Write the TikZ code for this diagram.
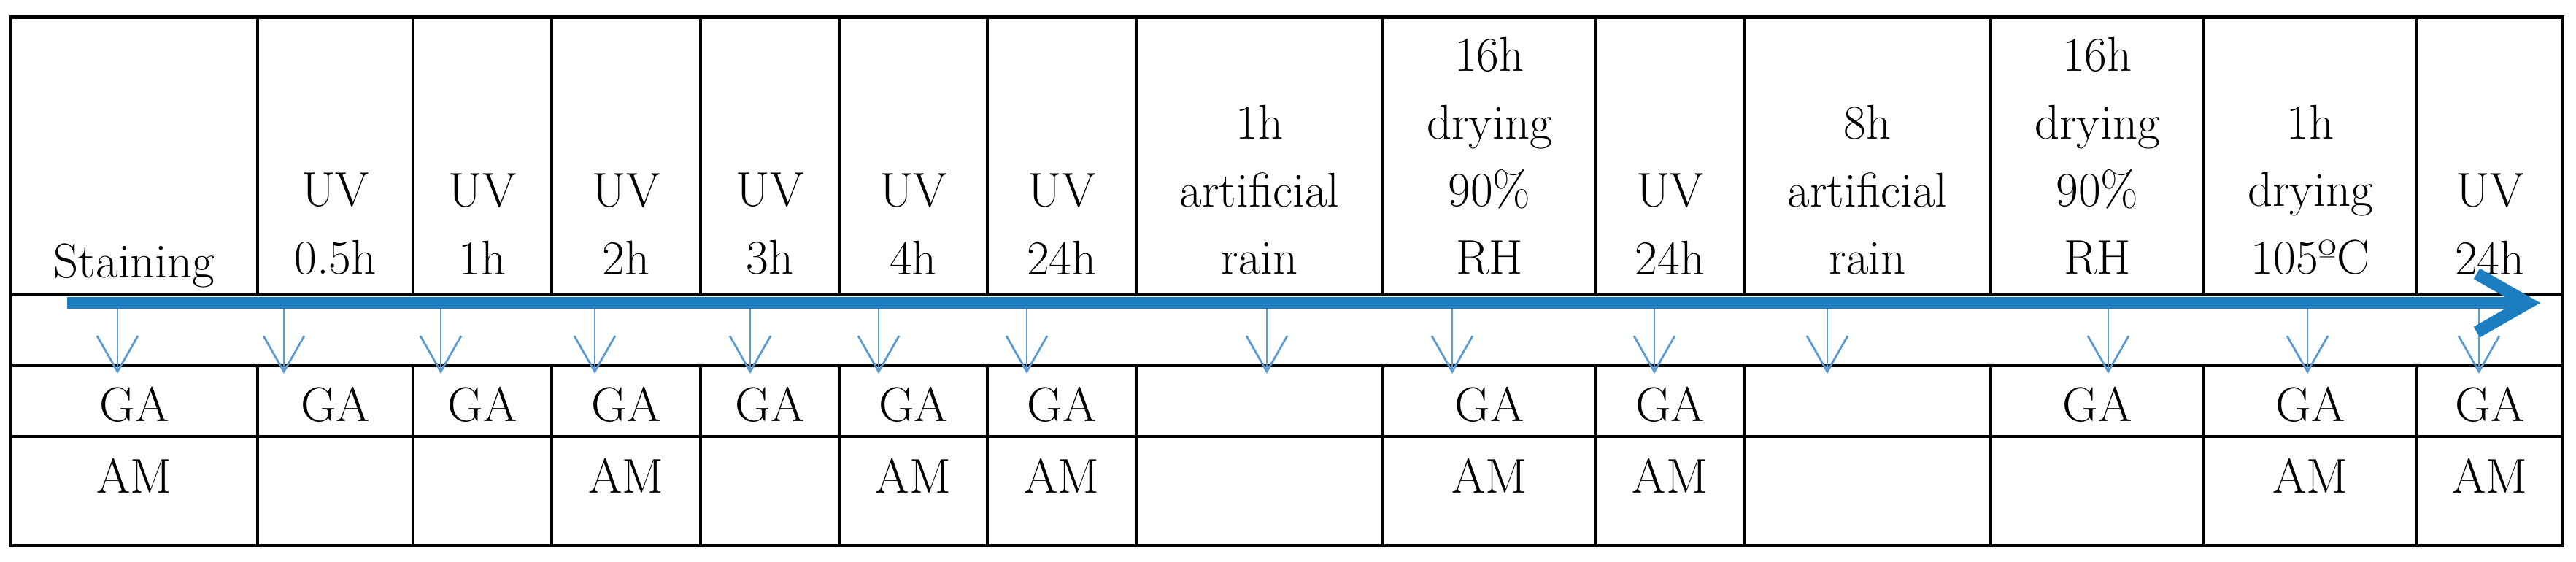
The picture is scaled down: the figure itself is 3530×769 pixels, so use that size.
\documentclass[tikz,border=0pt]{standalone}
\usetikzlibrary{arrows.meta}
\definecolor{lineblue}{RGB}{28,125,192}
\definecolor{tickblue}{RGB}{91,155,213}

\begin{document}
\begin{tikzpicture}[x=0.01cm,y=-0.01cm,
    grid/.style={line width=1pt},
    txt/.style={inner sep=0pt,font=\fontsize{19pt}{26.3pt}\selectfont,align=center},
    tick/.style={tickblue,line width=0.8pt,-{Straight Barb[length=4.9mm,width=5.6mm]}}]
\useasboundingbox (0,0) rectangle (3530,769);
% table
\draw[line width=1.3pt] (15,23.5) rectangle (3512,748);
\foreach \y in {404,501,598} \draw[grid] (15,\y) -- (3512,\y);
\foreach \x in {353,566,756,960,1150,1353,1557,1895,2187,2390,2728,3020,3312} {
    \draw[grid] (\x,23.5) -- (\x,404);
    \draw[grid] (\x,501) -- (\x,748);
}
% steps
\node[txt,anchor=base] (step1) at (184,380) {Staining};
\foreach \x/\t [count=\i from 2] in {459.5/{UV\\0.5h}, 661/{UV\\1h}, 858/{UV\\2h},
    1055/{UV\\3h}, 1251.5/{UV\\4h}, 1455/{UV\\24h}, 1726/{1h\\artificial\\rain},
    2041/{16h\\drying\\90\%\\RH}, 2288.5/{UV\\24h}, 2559/{8h\\artificial\\rain},
    2874/{16h\\drying\\90\%\\RH}, 3166/{1h\\drying\\105ºC}, 3412/{UV\\24h}}
    \node[txt,anchor=south] (step\i) at (\x,377) {\t};
% analyses
\foreach \x [count=\i] in {184,459.5,661,858,1055,1251.5,1455,2041,2288.5,2874,3166,3412}
    \node[txt,anchor=base] (ga\i) at (\x,577) {GA};
\foreach \x [count=\i] in {184,858,1251.5,1455,2041,2288.5,3166,3412}
    \node[txt,anchor=base] (am\i) at (\x,675) {AM};
% time line
\coordinate (t0) at (92,415);
\coordinate (t1) at (3481,415);
\foreach \x [count=\i] in {161,389,604,815,1028,1204,1407,1736,1990,2267,2504,2889,3162,3397} {
    \coordinate (p\i) at (\x,418);
    \coordinate (q\i) at (\x,512);
    \draw[tick] (p\i) -- (q\i);
}
\draw[lineblue,line width=4.8pt,-{Straight Barb[length=7mm,width=8mm]}] (t0) -- (t1);
\end{tikzpicture}
\end{document}
